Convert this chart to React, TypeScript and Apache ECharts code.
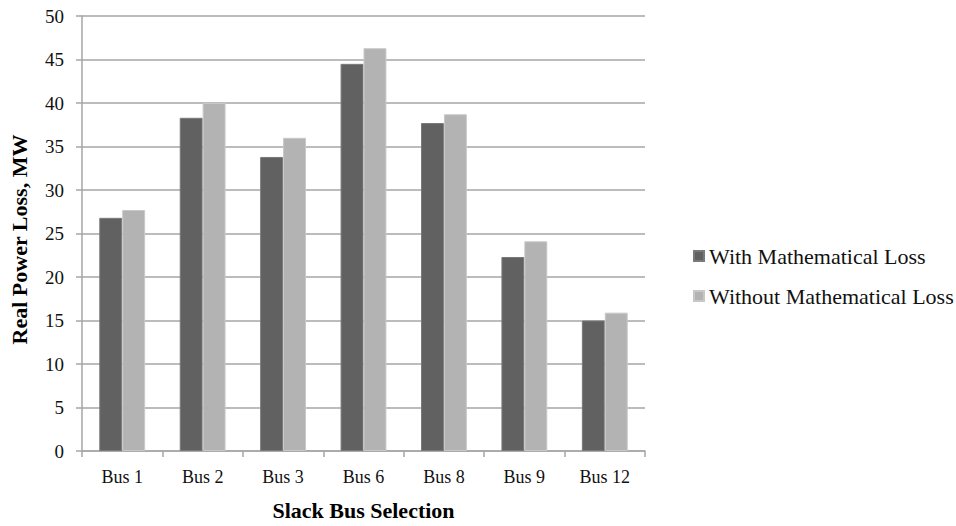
import React, { useEffect, useRef } from "react";
import * as echarts from "echarts";

const categories = ["Bus 1", "Bus 2", "Bus 3", "Bus 6", "Bus 8", "Bus 9", "Bus 12"];
const withLoss = [26.8, 38.3, 33.8, 44.5, 37.7, 22.3, 15.0];
const withoutLoss = [27.7, 40.0, 36.0, 46.3, 38.7, 24.1, 15.9];
const seriesNames = ["With Mathematical Loss", "Without Mathematical Loss"];

const FONT = "'Liberation Serif', 'Times New Roman', serif";

export default function App() {
  const ref = useRef<HTMLDivElement>(null);
  useEffect(() => {
    document.body.style.margin = "0";
    if (!ref.current) return;
    const chart = echarts.init(ref.current, undefined, { renderer: "svg" });
    chart.setOption({
      animation: false,
      backgroundColor: "#ffffff",
      textStyle: { fontFamily: FONT, color: "#000" },
      grid: { left: 81, width: 564, top: 16, height: 442, containLabel: false },
      legend: {
        orient: "vertical",
        left: 688,
        top: 240,
        itemWidth: 10,
        itemHeight: 10,
        itemGap: 18,
        icon: "rect",
        textStyle: { fontFamily: FONT, fontSize: 22, color: "#111" },
        data: seriesNames,
      },
      xAxis: {
        type: "category",
        data: categories,
        name: "Slack Bus Selection",
        nameLocation: "middle",
        nameGap: 48,
        nameTextStyle: { fontFamily: FONT, fontSize: 22, fontWeight: "bold", color: "#000" },
        axisLine: { lineStyle: { color: "#a6a6a6", width: 1.5 } },
        axisTick: { show: true, length: 6, lineStyle: { color: "#a6a6a6", width: 1.5 } },
        axisLabel: { fontFamily: FONT, fontSize: 18, color: "#111", margin: 17 },
      },
      yAxis: {
        type: "value",
        min: 0,
        max: 50,
        interval: 5,
        name: "Real Power Loss, MW",
        nameLocation: "middle",
        nameGap: 52,
        nameTextStyle: {
          fontFamily: FONT,
          fontSize: 22,
          fontWeight: "bold",
          color: "#000",
          padding: [0, 12, 0, 0],
        },
        axisLine: { show: true, lineStyle: { color: "#a6a6a6", width: 1.5 } },
        axisTick: { show: true, length: 6, lineStyle: { color: "#a6a6a6", width: 1.5 } },
        axisLabel: { fontFamily: FONT, fontSize: 19, color: "#111", margin: 18 },
        splitLine: { show: true, lineStyle: { color: "#a6a6a6", width: 1.5 } },
      },
      series: [
        {
          name: seriesNames[0],
          type: "bar",
          data: withLoss,
          barGap: "0%",
          barCategoryGap: "43%",
          itemStyle: { color: "#616161", borderColor: "#7a7a7a", borderWidth: 1 },
        },
        {
          name: seriesNames[1],
          type: "bar",
          data: withoutLoss,
          barGap: "0%",
          barCategoryGap: "43%",
          itemStyle: { color: "#b3b3b3", borderColor: "#c8c8c8", borderWidth: 1 },
        },
      ],
    });
    return () => chart.dispose();
  }, []);
  return <div ref={ref} style={{ width: 956, height: 526 }} />;
}
